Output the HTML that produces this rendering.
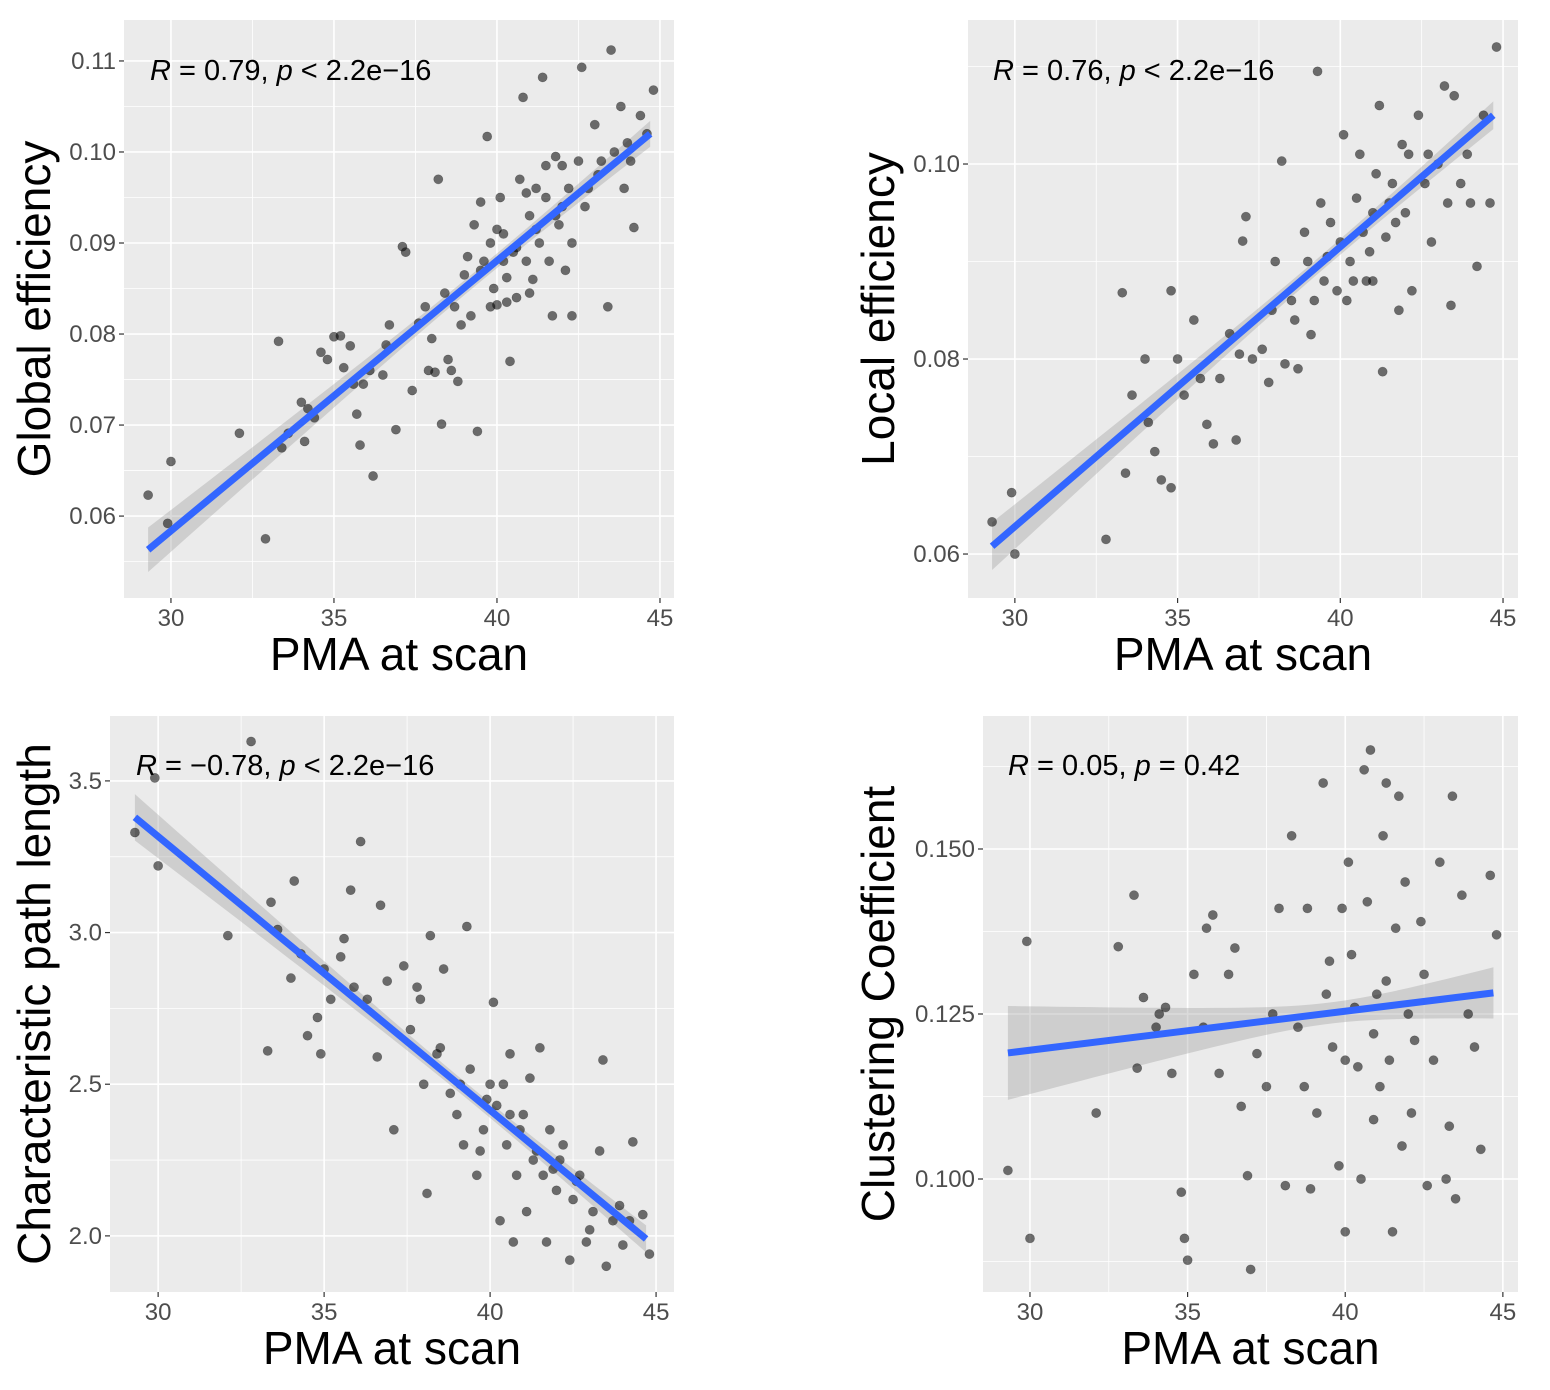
<!DOCTYPE html>
<html><head><meta charset="utf-8">
<style>
html,body{margin:0;padding:0;background:#fff;}
svg{display:block;font-family:"Liberation Sans",Arial,sans-serif;}
</style></head>
<body>
<svg id="chart" width="1550" height="1390" viewBox="0 0 1550 1390" xmlns="http://www.w3.org/2000/svg"></svg>
<script>
// ---- Data ----
const ageGE = [29.3,29.9,30.0,32.1,32.9,33.3,33.4,33.6,34.0,34.1,34.2,34.4,34.6,34.8,35.0,35.2,35.3,35.5,35.6,35.7,35.8,35.9,36.1,36.2,36.5,36.6,36.7,36.9,37.1,37.2,37.4,37.6,37.9,38.0,38.1,38.2,38.3,38.4,38.5,38.7,38.8,39.0,39.2,39.3,39.4,39.5,39.6,39.7,39.8,39.9,40.0,40.1,40.2,40.3,40.4,40.5,40.6,40.7,40.8,40.9,41.0,41.1,41.2,41.3,41.4,41.5,41.6,41.7,41.8,41.9,42.0,42.1,42.2,42.3,42.5,42.6,42.8,43.0,43.2,43.4,43.5,43.6,43.8,44.0,44.1,44.2,44.4,44.6,44.8,40.0,40.2,40.6,40.9,41.2,41.5,41.8,42.0,39.5,39.8,40.3,41.0,42.3,42.7,43.1,43.9,38.9,39.1,37.8,38.6];
const valGE = [0.0623,0.0592,0.066,0.0691,0.0575,0.0792,0.0675,0.0691,0.0725,0.0682,0.0718,0.0708,0.078,0.0772,0.0797,0.0798,0.0763,0.0787,0.0745,0.0712,0.0678,0.0745,0.076,0.0644,0.0755,0.0788,0.081,0.0695,0.0896,0.089,0.0738,0.0812,0.076,0.0795,0.0758,0.097,0.0701,0.0845,0.0772,0.083,0.0748,0.0865,0.082,0.092,0.0693,0.0945,0.088,0.1017,0.09,0.085,0.0832,0.095,0.091,0.0862,0.077,0.089,0.084,0.097,0.106,0.088,0.093,0.086,0.096,0.09,0.1082,0.095,0.088,0.082,0.0995,0.092,0.094,0.087,0.096,0.082,0.099,0.1093,0.096,0.103,0.099,0.083,0.1112,0.1,0.105,0.101,0.099,0.0917,0.104,0.102,0.1068,0.0915,0.088,0.0895,0.0955,0.0915,0.0985,0.093,0.0985,0.087,0.083,0.0835,0.0845,0.09,0.094,0.0975,0.096,0.081,0.0885,0.083,0.076];
const fitGE = [0.0563,0.1020];

const ageLE = [29.3,29.9,30.0,32.8,33.3,33.4,33.6,34.0,34.1,34.3,34.5,34.8,34.8,35.0,35.2,35.5,35.7,35.9,36.1,36.3,36.6,36.8,37.0,37.1,37.3,37.6,37.8,38.0,38.2,38.3,38.5,38.7,38.9,39.1,39.3,39.4,39.5,39.7,39.9,40.0,40.1,40.3,40.5,40.6,40.8,41.0,41.1,41.2,41.3,41.4,41.6,41.8,41.9,42.0,42.2,42.4,42.6,42.8,43.0,43.2,43.4,43.5,43.7,43.9,44.0,44.2,44.4,44.6,44.8,40.4,40.7,41.5,42.1,39.6,39.2,38.6,40.9,41.7,42.7,43.3,36.9,37.9,39.0,40.2,41.0];
const valLE = [0.0633,0.0663,0.06,0.0615,0.0868,0.0683,0.0763,0.08,0.0735,0.0705,0.0676,0.0668,0.087,0.08,0.0763,0.084,0.078,0.0733,0.0713,0.078,0.0826,0.0717,0.0921,0.0946,0.08,0.081,0.0776,0.09,0.1003,0.0795,0.086,0.079,0.093,0.0825,0.1095,0.096,0.088,0.094,0.087,0.092,0.103,0.09,0.0965,0.101,0.088,0.095,0.099,0.106,0.0787,0.0925,0.098,0.085,0.102,0.095,0.087,0.105,0.098,0.092,0.1,0.108,0.0855,0.107,0.098,0.101,0.096,0.0895,0.105,0.096,0.112,0.088,0.093,0.096,0.101,0.0905,0.086,0.084,0.091,0.094,0.101,0.096,0.0805,0.085,0.09,0.086,0.088];
const fitLE = [0.0608,0.1050];

const agePL = [29.3,29.9,30.0,32.1,32.8,33.3,33.4,33.6,34.0,34.1,34.3,34.5,34.8,34.9,35.0,35.2,35.5,35.6,35.8,35.9,36.1,36.3,36.6,36.7,36.9,37.1,37.4,37.6,37.9,38.0,38.1,38.2,38.4,38.6,38.8,39.0,39.2,39.3,39.4,39.6,39.8,40.0,40.1,40.2,40.3,40.5,40.6,40.7,40.8,41.0,41.1,41.2,41.3,41.5,41.6,41.7,41.8,42.0,42.2,42.4,42.5,42.7,42.9,43.1,43.3,43.4,43.5,43.7,43.9,44.0,44.2,44.3,44.6,44.8,40.4,40.9,41.4,39.7,39.9,41.9,40.6,42.1,39.1,38.5,37.8,42.6,43.0];
const valPL = [3.33,3.51,3.22,2.99,3.63,2.61,3.10,3.01,2.85,3.17,2.93,2.66,2.72,2.60,2.88,2.78,2.92,2.98,3.14,2.82,3.30,2.78,2.59,3.09,2.84,2.35,2.89,2.68,2.78,2.50,2.14,2.99,2.60,2.88,2.47,2.40,2.30,3.02,2.55,2.20,2.35,2.50,2.77,2.43,2.05,2.30,2.60,1.98,2.20,2.40,2.08,2.52,2.25,2.62,2.20,1.98,2.35,2.15,2.30,1.92,2.12,2.20,1.98,2.08,2.28,2.58,1.90,2.05,2.10,1.97,2.05,2.31,2.07,1.94,2.50,2.35,2.28,2.28,2.45,2.22,2.40,2.25,2.50,2.62,2.82,2.18,2.02];
const fitPL = [3.38,1.99];

const ageCC = [29.3,29.9,30.0,32.1,32.8,33.3,33.4,33.6,34.0,34.1,34.3,34.5,34.8,34.9,35.0,35.2,35.5,35.6,35.8,36.0,36.3,36.5,36.7,36.9,37.0,37.2,37.5,37.9,38.1,38.3,38.5,38.7,38.9,39.1,39.3,39.4,39.6,39.8,40.0,40.1,40.2,40.4,40.6,40.7,40.8,40.9,41.0,41.2,41.3,41.4,41.5,41.6,41.7,41.8,41.9,42.0,42.2,42.4,42.6,42.8,43.0,43.2,43.4,43.5,43.7,43.9,44.1,44.3,44.6,44.8,40.3,40.5,40.9,41.1,41.3,42.1,39.9,39.5,38.8,42.5,43.3,37.7,40.0];
const valCC = [0.1013,0.136,0.091,0.11,0.1352,0.143,0.1168,0.1275,0.123,0.125,0.126,0.116,0.098,0.091,0.0877,0.131,0.123,0.138,0.14,0.116,0.131,0.135,0.111,0.1005,0.0863,0.119,0.114,0.141,0.099,0.152,0.123,0.114,0.0985,0.11,0.16,0.128,0.12,0.102,0.092,0.148,0.134,0.117,0.162,0.142,0.165,0.109,0.128,0.152,0.16,0.118,0.092,0.138,0.158,0.105,0.145,0.125,0.121,0.139,0.099,0.118,0.148,0.1,0.158,0.097,0.143,0.125,0.12,0.1045,0.146,0.137,0.126,0.1,0.122,0.114,0.13,0.11,0.141,0.133,0.141,0.131,0.108,0.125,0.118];
const fitCC = [0.1191,0.1282];

const xTicks = [30,35,40,45];
const ticksGE = ["0.06","0.07","0.08","0.09","0.10","0.11"];
const ticksLE = ["0.06","0.08","0.10"];
const ticksPL = ["2.0","2.5","3.0","3.5"];
const ticksCC = ["0.100","0.125","0.150"];

const NS = "http://www.w3.org/2000/svg";
const svg = document.getElementById('chart');
function mk(tag, attrs, parent){const e=document.createElementNS(NS,tag);for(const k in attrs)e.setAttribute(k,attrs[k]);(parent||svg).appendChild(e);return e;}

function panel(cfg){
  const g = mk('g',{});
  
  
  const {L,R,T,B,x0,x1,y0,y1} = cfg;
  const sx = v => L + (v - x0)/(x1 - x0)*(R - L);
  const sy = v => B - (v - y0)/(y1 - y0)*(B - T);
  const bg = mk('rect',{x:L,y:T,width:R-L,height:B-T,fill:'#ebebeb'},g);
  
  
  cfg.yMinor.forEach(v=>{const y=sy(v); if(y>T&&y<B) mk('line',{x1:L,x2:R,y1:y,y2:y,stroke:'#fff','stroke-width':0.8},g);});
  [27.5,32.5,37.5,42.5].forEach(v=>{const x=sx(v); if(x>L&&x<R) mk('line',{x1:x,x2:x,y1:T,y2:B,stroke:'#fff','stroke-width':0.8},g);});
  cfg.yTicks.forEach(t=>{const y=sy(parseFloat(t));
    mk('line',{x1:L,x2:R,y1:y,y2:y,stroke:'#fff','stroke-width':1.6},g);
    mk('line',{x1:L-5,x2:L,y1:y,y2:y,stroke:'#333','stroke-width':1.2},g);
    const tx=mk('text',{x:L-8,y:y+8,'text-anchor':'end','font-size':24,fill:'#4d4d4d'},g);tx.textContent=t;
    
    
  });
  xTicks.forEach(t=>{const x=sx(t);
    mk('line',{x1:x,x2:x,y1:T,y2:B,stroke:'#fff','stroke-width':1.6},g);
    mk('line',{x1:x,x2:x,y1:B,y2:B+5,stroke:'#333','stroke-width':1.2},g);
    const tx=mk('text',{x:x,y:B+28,'text-anchor':'middle','font-size':24,fill:'#4d4d4d'},g);tx.textContent=t;
    
    
  });
  const xa=29.3, xb=44.7, xc=cfg.xc, n=40;
  const fy = x => cfg.fit[0] + (cfg.fit[1]-cfg.fit[0])*(x-xa)/(xb-xa);
  const hw = x => cfg.hmin*Math.sqrt(1 + cfg.k*(x-xc)*(x-xc));
  let up=[],dn=[];
  for(let i=0;i<=n;i++){const x=xa+(xb-xa)*i/n;up.push(sx(x)+','+sy(fy(x)+hw(x)));dn.unshift(sx(x)+','+sy(fy(x)-hw(x)));}
  const rib=mk('polygon',{points:up.concat(dn).join(' '),fill:'#999','fill-opacity':0.35},g);
  
  
  cfg.xs.forEach((xv,i)=>{
    const c=mk('circle',{cx:sx(xv),cy:sy(cfg.ys[i]),r:4.6,fill:'#000','fill-opacity':0.55,stroke:'#000','stroke-opacity':0.3,'stroke-width':0.6},g);
    
    
  });
  const ln=mk('line',{x1:sx(xa),y1:sy(fy(xa)),x2:sx(xb),y2:sy(fy(xb)),stroke:'#3366ff','stroke-width':7},g);
  
  
  const an=mk('text',{x:cfg.ax,y:cfg.ay,'font-size':29,fill:'#000'},g);
  an.innerHTML=cfg.ann;
  
  
  const xt=mk('text',{x:(L+R)/2,y:B+72,'text-anchor':'middle','font-size':46,fill:'#000'},g);xt.textContent='PMA at scan';
  
  
  const ycx=cfg.ytx, ycy=(T+B)/2;
  const yt=mk('text',{x:ycx,y:ycy,'text-anchor':'middle','font-size':46,fill:'#000',transform:`rotate(-90 ${ycx} ${ycy})`},g);yt.textContent=cfg.ytitle;
  
  
}
const it=s=>`<tspan font-style="italic">${s}</tspan>`;
panel({name:'panel-global-efficiency',L:124,R:674,T:20,B:598,x0:28.56,x1:45.43,y0:0.0510,y1:0.1145,
  yTicks:ticksGE,yMinor:[0.055,0.065,0.075,0.085,0.095,0.105],xs:ageGE,ys:valGE,fit:fitGE,xc:39.5,hmin:0.0008,k:0.08,
  ax:150,ay:80,ann:`${it('R')} = 0.79, ${it('p')} &lt; 2.2e−16`,ytx:50,ytitle:'Global efficiency'});
panel({name:'panel-local-efficiency',L:968,R:1518,T:20,B:598,x0:28.56,x1:45.46,y0:0.05549,y1:0.11477,
  yTicks:ticksLE,yMinor:[0.07,0.09,0.11],xs:ageLE,ys:valLE,fit:fitLE,xc:39.5,hmin:0.0008,k:0.08,
  ax:993,ay:80,ann:`${it('R')} = 0.76, ${it('p')} &lt; 2.2e−16`,ytx:894,ytitle:'Local efficiency'});
panel({name:'panel-path-length',L:110,R:674,T:716,B:1292,x0:28.55,x1:45.54,y0:1.815,y1:3.714,
  yTicks:ticksPL,yMinor:[2.25,2.75,3.25],xs:agePL,ys:valPL,fit:fitPL,xc:39.5,hmin:0.025,k:0.08,
  ax:136,ay:775,ann:`${it('R')} = −0.78, ${it('p')} &lt; 2.2e−16`,ytx:50,ytitle:'Characteristic path length'});
panel({name:'panel-clustering-coefficient',L:983,R:1518,T:716,B:1292,x0:28.51,x1:45.48,y0:0.08288,y1:0.17015,
  yTicks:ticksCC,yMinor:[0.0875,0.1125,0.1375,0.1625],xs:ageCC,ys:valCC,fit:fitCC,xc:39.5,hmin:0.0016,k:0.18,
  ax:1008,ay:775,ann:`${it('R')} = 0.05, ${it('p')} = 0.42`,ytx:894,ytitle:'Clustering Coefficient'});
</script>
</body></html>
